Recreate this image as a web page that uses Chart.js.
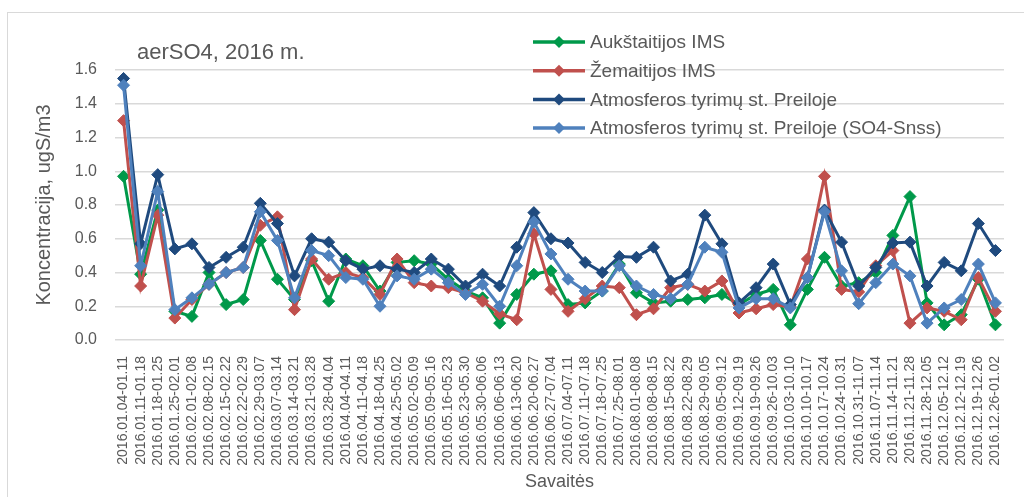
<!DOCTYPE html>
<html>
<head>
<meta charset="utf-8">
<script src="https://cdn.jsdelivr.net/npm/chart.js@4.4.0/dist/chart.umd.min.js"></script>
<style>
    body { margin: 0; background: #fff; overflow: hidden; }
    #wrap { position: relative; width: 1024px; height: 497px; }
    #frame { position: absolute; left: 7px; top: 12px; width: 1030px; height: 500px; border: 1px solid #d9d9d9; }
    canvas { position: absolute; left: 0; top: 0; }
</style>
</head>
<body>
<div id="wrap">
    <div id="frame"></div>
    <canvas id="myChart" width="1024" height="497"></canvas>
</div>
<script>
// savaites
const weeks = [
    "2016.01.04-01.11", "2016.01.11-01.18", "2016.01.18-01.25", "2016.01.25-02.01",
    "2016.02.01-02.08", "2016.02.08-02.15", "2016.02.15-02.22", "2016.02.22-02.29",
    "2016.02.29-03.07", "2016.03.07-03.14", "2016.03.14-03.21", "2016.03.21-03.28",
    "2016.03.28-04.04", "2016.04.04-04.11", "2016.04.11-04.18", "2016.04.18-04.25",
    "2016.04.25-05.02", "2016.05.02-05.09", "2016.05.09-05.16", "2016.05.16-05.23",
    "2016.05.23-05.30", "2016.05.30-06.06", "2016.06.06-06.13", "2016.06.13-06.20",
    "2016.06.20-06.27", "2016.06.27-07.04", "2016.07.04-07.11", "2016.07.11-07.18",
    "2016.07.18-07.25", "2016.07.25-08.01", "2016.08.01-08.08", "2016.08.08-08.15",
    "2016.08.15-08.22", "2016.08.22-08.29", "2016.08.29-09.05", "2016.09.05-09.12",
    "2016.09.12-09.19", "2016.09.19-09.26", "2016.09.26-10.03", "2016.10.03-10.10",
    "2016.10.10-10.17", "2016.10.17-10.24", "2016.10.24-10.31", "2016.10.31-11.07",
    "2016.11.07-11.14", "2016.11.14-11.21", "2016.11.21-11.28", "2016.11.28-12.05",
    "2016.12.05-12.12", "2016.12.12-12.19", "2016.12.19-12.26", "2016.12.26-01.02"
];

const aukstaitija = [
    0.97, 0.39, 0.77, 0.17, 0.14, 0.40, 0.21, 0.24, 0.59, 0.36, 0.24, 0.47, 0.23,
    0.48, 0.44, 0.29, 0.46, 0.47, 0.45, 0.36, 0.29, 0.25, 0.10, 0.27, 0.39, 0.41,
    0.21, 0.22, 0.29, 0.45, 0.28, 0.22, 0.23, 0.24, 0.25, 0.27, 0.21, 0.27, 0.30,
    0.09, 0.30, 0.49, 0.32, 0.34, 0.40, 0.62, 0.85, 0.22, 0.09, 0.15, 0.36, 0.09
];
const zemaitija = [
    1.30, 0.32, 0.74, 0.13, 0.24, 0.33, 0.40, 0.43, 0.68, 0.73, 0.18, 0.48, 0.36,
    0.40, 0.37, 0.27, 0.48, 0.34, 0.32, 0.31, 0.28, 0.23, 0.155, 0.12, 0.63, 0.30,
    0.17, 0.245, 0.32, 0.31, 0.15, 0.185, 0.31, 0.33, 0.29, 0.35, 0.16, 0.185, 0.21,
    0.195, 0.48, 0.97, 0.30, 0.285, 0.44, 0.53, 0.10, 0.19, 0.17, 0.12, 0.37, 0.17
];
const preila = [
    1.55, 0.57, 0.98, 0.54, 0.57, 0.43, 0.49, 0.55, 0.81, 0.69, 0.38, 0.60, 0.58,
    0.47, 0.42, 0.44, 0.42, 0.40, 0.48, 0.42, 0.32, 0.39, 0.32, 0.55, 0.755, 0.60,
    0.575, 0.46, 0.40, 0.495, 0.49, 0.55, 0.35, 0.39, 0.74, 0.57, 0.22, 0.31, 0.45,
    0.21, 0.37, 0.77, 0.58, 0.32, 0.43, 0.575, 0.58, 0.32, 0.46, 0.41, 0.69, 0.53
];
const preilaSnss = [
    1.51, 0.44, 0.88, 0.18, 0.25, 0.33, 0.40, 0.43, 0.76, 0.59, 0.25, 0.53, 0.50,
    0.37, 0.36, 0.20, 0.38, 0.36, 0.42, 0.34, 0.27, 0.33, 0.20, 0.44, 0.70, 0.51,
    0.36, 0.29, 0.29, 0.44, 0.32, 0.27, 0.245, 0.33, 0.55, 0.52, 0.19, 0.245, 0.245,
    0.19, 0.37, 0.76, 0.41, 0.215, 0.34, 0.45, 0.38, 0.10, 0.19, 0.24, 0.45, 0.22
];

const seriesNames = [
    "Aukštaitijos IMS",
    "Žemaitijos IMS",
    "Atmosferos tyrimų st. Preiloje",
    "Atmosferos tyrimų st. Preiloje (SO4-Snss)"
];
const seriesColors = ["#00994a", "#c0504d", "#1f4a7e", "#4f81bd"];
const yTicks = [0, 0.2, 0.4, 0.6, 0.8, 1.0, 1.2, 1.4, 1.6];

const FONT = "'Liberation Sans', Arial, sans-serif";
const TEXT = "#595959";

function makeSet(i, values) {
    return {
        label: seriesNames[i],
        data: values,
        borderColor: seriesColors[i],
        backgroundColor: seriesColors[i],
        borderWidth: 3,
        pointStyle: 'rectRot',
        pointRadius: 6,
        pointBorderWidth: 1,
        tension: 0,
        order: 3 - i   // kaip Excel'yje: paskutine serija virsuje
    };
}

// antraste ir legenda piesiam patys, kaip Excel'yje (legenda ant grafiko)
const overlay = {
    id: 'overlay',
    afterDraw(chart) {
        const ctx = chart.ctx;
        ctx.save();
        ctx.fillStyle = TEXT;
        ctx.textBaseline = 'middle';
        ctx.textAlign = 'left';
        ctx.font = "22px " + FONT;
        ctx.fillText("aerSO4, 2016 m.", 137, 53);

        ctx.font = "19px " + FONT;
        chart.data.datasets.forEach(function (ds, i) {
            const y = 42 + i * 28.7;
            ctx.strokeStyle = ds.borderColor;
            ctx.lineWidth = 3.5;
            ctx.beginPath();
            ctx.moveTo(533, y);
            ctx.lineTo(585, y);
            ctx.stroke();
            ctx.fillStyle = ds.backgroundColor;
            ctx.beginPath();
            ctx.moveTo(559 - 6, y);
            ctx.lineTo(559, y - 6);
            ctx.lineTo(559 + 6, y);
            ctx.lineTo(559, y + 6);
            ctx.closePath();
            ctx.fill();
            ctx.fillStyle = TEXT;
            ctx.fillText(ds.label, 590, y + 1);
        });
        ctx.restore();
    }
};

const ctx = document.getElementById('myChart');

new Chart(ctx, {
    type: 'line',
    data: {
        labels: weeks,
        datasets: [
            makeSet(0, aukstaitija),
            makeSet(1, zemaitija),
            makeSet(2, preila),
            makeSet(3, preilaSnss)
        ]
    },
    options: {
        responsive: false,
        animation: false,
        layout: { padding: { top: 70, right: 20, left: 0, bottom: 0 } },
        plugins: {
            legend: { display: false },
            tooltip: { enabled: false }
        },
        scales: {
            x: {
                offset: true,
                grid: { display: false },
                border: { display: false },
                ticks: {
                    autoSkip: false,
                    maxRotation: 90,
                    minRotation: 90,
                    padding: 8,
                    color: TEXT,
                    font: { family: FONT, size: 14 }
                },
                title: {
                    display: true,
                    text: "Savaitės",
                    color: TEXT,
                    font: { family: FONT, size: 18 },
                    padding: { top: 0, bottom: 4 }
                },
                afterFit: function (scale) { scale.height = 157; }
            },
            y: {
                min: 0,
                max: 1.6,
                afterBuildTicks: function (scale) {
                    scale.ticks = yTicks.map(function (v) { return { value: v }; });
                },
                grid: { color: "#d9d9d9", lineWidth: 1.5, drawTicks: false },
                border: { display: false },
                ticks: {
                    padding: 18,
                    color: TEXT,
                    font: { family: FONT, size: 16 },
                    callback: function (v) { return Number(v).toFixed(1); }
                },
                title: {
                    display: true,
                    text: "Koncentracija, ugS/m3",
                    color: TEXT,
                    font: { family: FONT, size: 20 },
                    padding: { top: 32, bottom: 0 }
                },
                afterFit: function (scale) { scale.width = 115; }
            }
        }
    },
    plugins: [overlay]
});
</script>
</body>
</html>
